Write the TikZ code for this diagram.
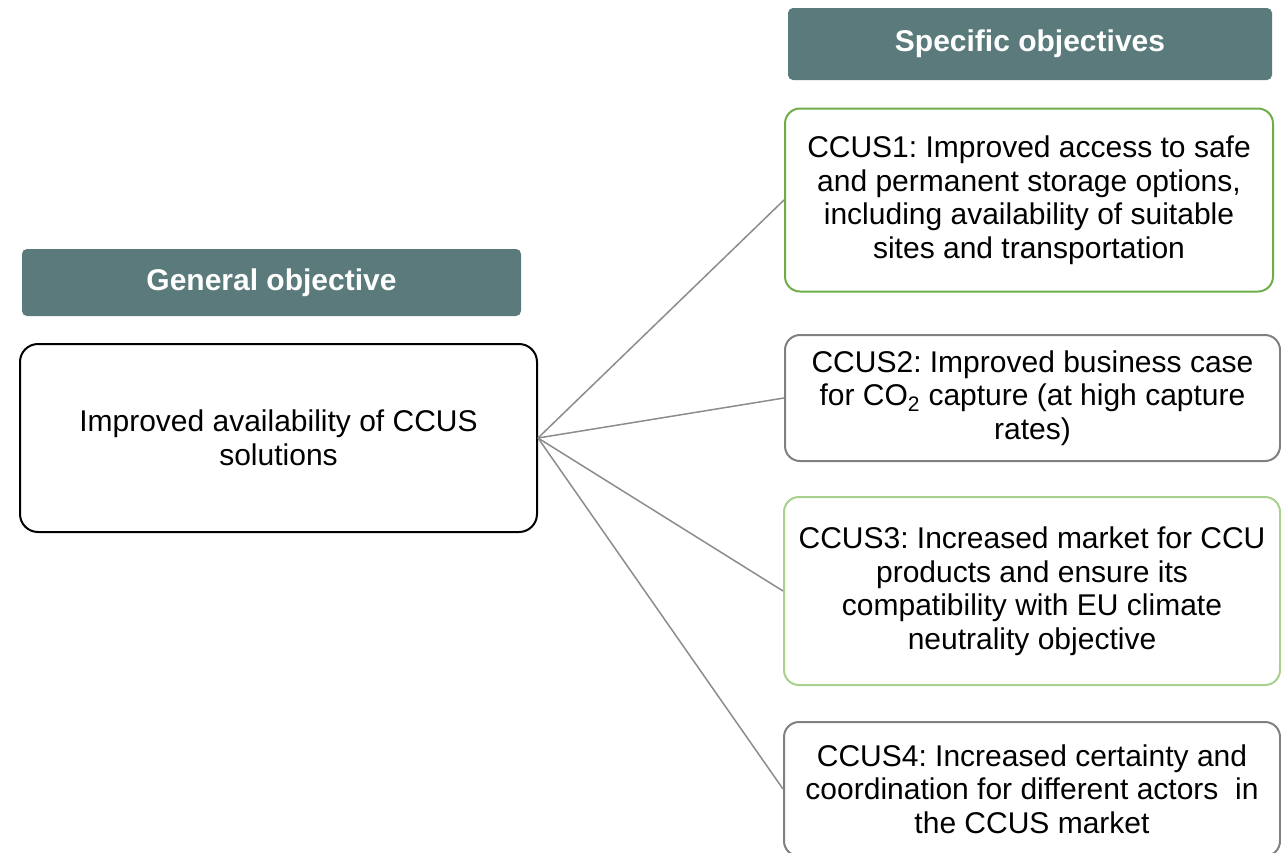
\documentclass[tikz,border=0pt]{standalone}
\usepackage{fontspec}
\setmainfont{Liberation Sans}
\usepackage{xcolor}
\definecolor{headteal}{HTML}{5A7A7B}
\definecolor{darkgreen}{HTML}{70AD47}
\definecolor{palegreen}{HTML}{A9D18E}
\definecolor{boxgray}{HTML}{808080}
\definecolor{linegray}{HTML}{8C8C8C}
\frenchspacing

\begin{document}
\begin{tikzpicture}[x=1pt,y=-1pt,
    head/.style={fill=headteal,text=white,rounded corners=5pt,
      font=\fontsize{30}{34}\selectfont\bfseries},
    objbox/.style={draw,line width=2pt,rounded corners=15pt,align=center,
      inner sep=0pt,font=\fontsize{30}{33.5}\selectfont},
    link/.style={draw=linegray,line width=1.5pt}]
  \useasboundingbox (0,0) rectangle (1281,852);
  \node[head,minimum width=484pt,minimum height=72pt] (spechead) at (1030,44) {Specific objectives};
  \node[head,minimum width=499pt,minimum height=67pt] (genhead) at (271.5,282.5) {General objective};
  \node[objbox,draw=black,rounded corners=18pt,minimum width=517pt,minimum height=188pt] (gen) at (278.5,438)
    {Improved availability of CCUS\\solutions};
  \node[objbox,draw=darkgreen,minimum width=488pt,minimum height=183pt] (ccus1) at (1029,200)
    {CCUS1: Improved access to safe\\and permanent storage options,\\including availability of suitable\\sites and transportation};
  \node[objbox,draw=boxgray,minimum width=495pt,minimum height=126pt] (ccus2) at (1032.5,398)
    {CCUS2: Improved business case\\for CO\textsubscript{2} capture (at high capture\\rates)};
  \node[objbox,draw=boxgray!0!palegreen,minimum width=496pt,minimum height=188pt] (ccus3) at (1032,591)
    {CCUS3: Increased market for CCU\\products and ensure its\\compatibility with EU climate\\neutrality objective};
  \node[objbox,draw=boxgray,minimum width=496pt,minimum height=134pt] (ccus4) at (1032,789)
    {CCUS4: Increased certainty and\\coordination for different actors\ \ in\\the CCUS market};
  \draw[link] (gen.east) -- (ccus1.west);
  \draw[link] (gen.east) -- (ccus2.west);
  \draw[link] (gen.east) -- (ccus3.west);
  \draw[link] (gen.east) -- (ccus4.west);
\end{tikzpicture}
\end{document}
